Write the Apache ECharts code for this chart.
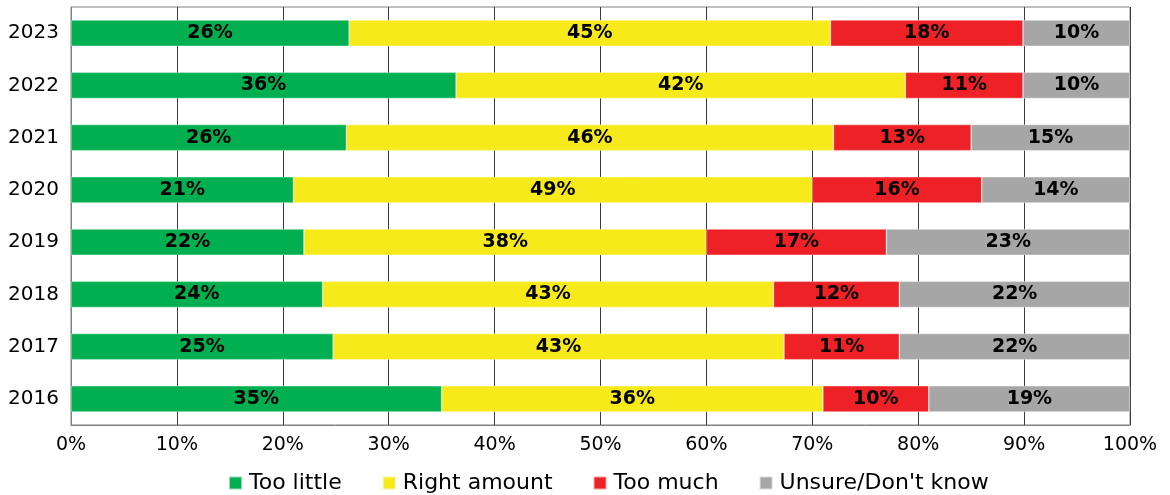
<!DOCTYPE html>
<html><head><meta charset="utf-8">
<script src="https://cdn.jsdelivr.net/npm/echarts@6/dist/echarts.min.js"></script>
<style>html,body{margin:0;padding:0;background:#fff}#c{width:1170px;height:495px}</style>
</head><body><div id="c"></div>
<script>
const years = ['2023','2022','2021','2020','2019','2018','2017','2016'];
const tooLittle   = [26, 36, 26, 21, 22, 24, 25, 35];
const rightAmount = [45, 42, 46, 49, 38, 43, 43, 36];
const tooMuch     = [18, 11, 13, 16, 17, 12, 11, 10];
const unsure      = [10, 10, 15, 14, 23, 22, 22, 19];
const seriesNames = ['Too little','Right amount','Too much','Unsure/Don\'t know'];
const colors = ['#00B050','#F7EA1B','#EE2226','#A6A6A6'];
const xTicks = [0,10,20,30,40,50,60,70,80,90,100];

const raw = [tooLittle, rightAmount, tooMuch, unsure];
const totals = years.map((_, i) => raw.reduce((s, a) => s + a[i], 0));
const FONT = 'DejaVu Sans';

const series = raw.map((arr, k) => ({
  name: seriesNames[k],
  type: 'bar',
  stack: 'all',
  barWidth: '50%',
  itemStyle: { color: colors[k], borderColor: 'rgba(255,255,255,0.6)', borderWidth: 0.6 },
  label: {
    show: true, position: 'inside',
    fontFamily: FONT, fontWeight: 'bold', fontSize: 19, color: '#000',
    formatter: p => arr[p.dataIndex] + '%'
  },
  data: arr.map((v, i) => v / totals[i] * 100)
}));

const chart = echarts.init(document.getElementById('c'), null, {renderer: 'canvas'});
chart.setOption({
  animation: false,
  grid: { left: 71, right: 40, top: 7, bottom: 70, show: true, borderColor: '#808080', borderWidth: 1 },
  legend: {
    top: 467, left: 223,
    itemWidth: 13, itemHeight: 13, itemGap: 40, icon: 'rect',
    textStyle: { fontFamily: FONT, fontSize: 22, color: '#000', padding: [0,0,0,2] },
    data: seriesNames
  },
  xAxis: {
    type: 'value', min: 0, max: 100, interval: 10,
    axisLine: { show: true, lineStyle: { color: '#808080' } },
    axisTick: { show: false },
    splitLine: { show: true, lineStyle: { color: '#3a3a3a', width: 1 } },
    axisLabel: { fontFamily: FONT, fontSize: 19, color: '#000', margin: 11,
      formatter: v => xTicks.includes(v) ? v + '%' : '' }
  },
  yAxis: {
    type: 'category', data: years, inverse: true,
    axisLine: { show: true, lineStyle: { color: '#808080' } },
    axisTick: { show: false },
    axisLabel: { fontFamily: FONT, fontSize: 20, color: '#000', margin: 12 }
  },
  series: series
});
</script></body></html>
